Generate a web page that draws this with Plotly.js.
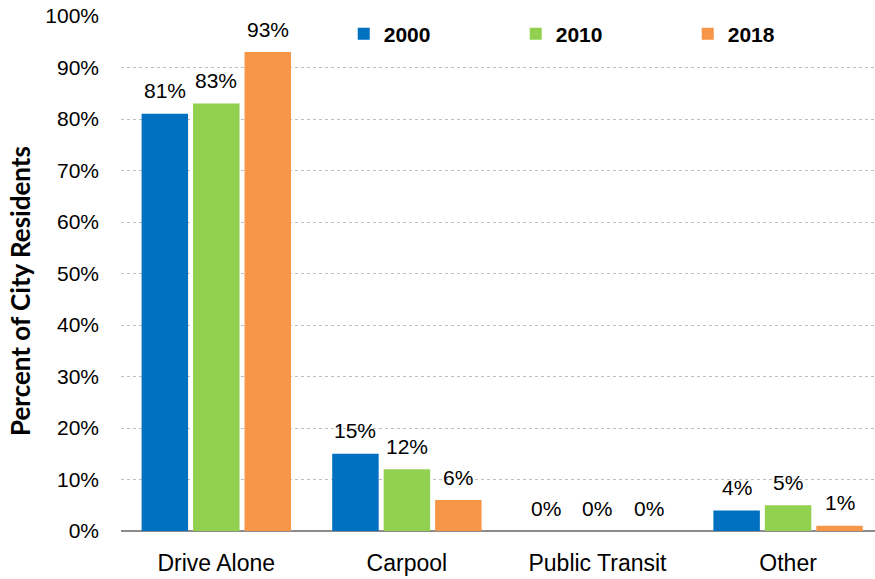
<!DOCTYPE html>
<html>
<head>
<meta charset="utf-8">
<script src="https://cdn.plot.ly/plotly-3.0.1.min.js"></script>
<style>html,body{margin:0;padding:0;background:#fff;overflow:hidden}</style>
</head>
<body>
<div id="chart" style="width:875px;height:579px"></div>
<script>
const categories = ["Drive Alone", "Carpool", "Public Transit", "Other"];
const seriesNames = ["2000", "2010", "2018"];
const values2000 = [81, 15, 0, 4];
const values2010 = [83, 12, 0, 5];
const values2018 = [93, 6, 0, 1];
const colors = ["#0070C0", "#92D050", "#F79646"];
const yTicks = [0,10,20,30,40,50,60,70,80,90,100];

const font = "Liberation Sans, Arial, sans-serif";
const allValues = [values2000, values2010, values2018];

const W = 875, H = 579;
const margin = {l: 121, r: 0, t: 16, b: 48, autoexpand: false};
const xRange = [-0.5, 3.456];
const bargap = 0.19, bargroupgap = 0.097;

const traces = allValues.map((vals, i) => ({
  type: "bar",
  name: seriesNames[i],
  x: categories,
  y: vals,
  marker: {color: colors[i]},
  hoverinfo: "none"
}));

// value labels, placed with the axes' data coordinates, shifted to the bar slot
const plotW = W - margin.l - margin.r;
const unitPx = plotW / (xRange[1] - xRange[0]);
const slotPx = unitPx * (1 - bargap) / allValues.length;
const annotations = [];
allValues.forEach((vals, i) => {
  vals.forEach((v, j) => {
    annotations.push({
      x: categories[j], y: v, xref: "x", yref: "y",
      xshift: (i - (allValues.length - 1) / 2) * slotPx,
      yshift: 23,
      yanchor: "middle", xanchor: "center",
      text: v + "%", showarrow: false,
      font: {family: font, size: 21, color: "#000"}
    });
  });
});
annotations.push({
  text: "<b>Percent of City Residents</b>",
  xref: "paper", yref: "paper",
  x: (20 - margin.l) / plotW, y: (H - margin.b - 291) / (H - margin.t - margin.b),
  xanchor: "center", yanchor: "middle",
  textangle: -90,
  showarrow: false,
  font: {family: "Lato, sans-serif", size: 26, color: "#000"}
});

const layout = {
  width: W, height: H,
  margin: margin,
  paper_bgcolor: "#fff", plot_bgcolor: "#fff",
  barmode: "group",
  bargap: bargap,
  bargroupgap: bargroupgap,
  showlegend: true,
  legend: {
    orientation: "h", x: 0.2954, y: 0.965, xanchor: "left", yanchor: "middle",
    font: {family: font, size: 21, color: "#000", weight: "bold"},
    entrywidth: 127, itemwidth: 30, bgcolor: "rgba(0,0,0,0)"
  },
  xaxis: {
    type: "category",
    range: xRange,
    showgrid: false,
    showline: false,
    zeroline: false,
    ticks: "",
    tickfont: {family: font, size: 23, color: "#000"},
    ticklabelstandoff: 16,
    automargin: false
  },
  yaxis: {
    range: [0, 100],
    tickvals: yTicks,
    ticktext: yTicks.map(v => v + "%"),
    tickfont: {family: font, size: 21, color: "#000"},
    showgrid: true,
    gridcolor: "#BFBFBF",
    griddash: "dot",
    gridwidth: 1,
    zeroline: true,
    zerolinecolor: "#8C8C8C",
    zerolinewidth: 2,
    showline: false,
    ticks: "",
    ticklabelstandoff: 21,
    automargin: false
  },
  annotations: annotations
};

Plotly.newPlot("chart", traces, layout, {displayModeBar: false, staticPlot: true});
</script>
</body>
</html>
